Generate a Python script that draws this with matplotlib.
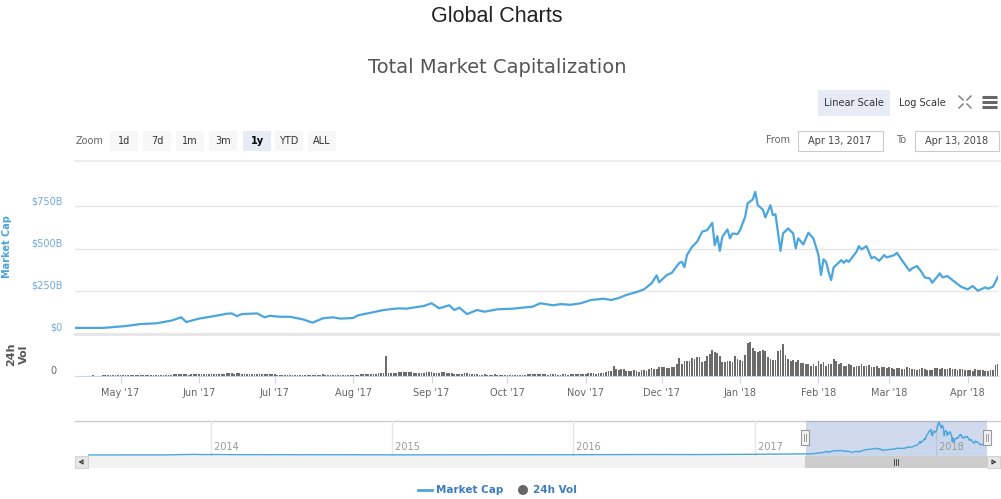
import numpy as np
import pandas as pd
import matplotlib
matplotlib.use("Agg")
import matplotlib.pyplot as plt
import matplotlib.dates as mdates
from matplotlib.patches import Rectangle, Circle

W, H = 1001, 499

# market cap in billions USD
cap_dates = [
    "2017-04-13", "2017-04-24", "2017-05-03", "2017-05-09", "2017-05-15", "2017-05-21",
    "2017-05-25", "2017-05-27", "2017-06-01", "2017-06-07", "2017-06-12", "2017-06-14",
    "2017-06-16", "2017-06-18", "2017-06-24", "2017-06-27", "2017-06-29", "2017-07-03",
    "2017-07-07", "2017-07-12", "2017-07-16", "2017-07-20", "2017-07-24", "2017-07-27",
    "2017-08-01", "2017-08-03", "2017-08-08", "2017-08-13", "2017-08-19", "2017-08-22",
    "2017-08-29", "2017-09-01", "2017-09-04", "2017-09-08", "2017-09-10", "2017-09-12",
    "2017-09-15", "2017-09-19", "2017-09-22", "2017-09-27", "2017-10-03", "2017-10-11",
    "2017-10-14", "2017-10-19", "2017-10-22", "2017-10-26", "2017-10-30", "2017-11-03",
    "2017-11-08", "2017-11-11", "2017-11-14", "2017-11-17", "2017-11-21", "2017-11-24",
    "2017-11-27", "2017-11-29", "2017-11-30", "2017-12-03", "2017-12-05", "2017-12-08",
    "2017-12-09", "2017-12-10", "2017-12-11", "2017-12-13", "2017-12-15", "2017-12-17",
    "2017-12-19", "2017-12-21", "2017-12-22", "2017-12-23", "2017-12-24", "2017-12-25",
    "2017-12-27", "2017-12-28", "2017-12-29", "2017-12-31", "2018-01-01", "2018-01-03",
    "2018-01-04", "2018-01-06", "2018-01-07", "2018-01-08", "2018-01-10", "2018-01-11",
    "2018-01-13", "2018-01-14", "2018-01-15", "2018-01-17", "2018-01-18", "2018-01-20",
    "2018-01-22", "2018-01-23", "2018-01-24", "2018-01-26", "2018-01-28", "2018-01-30",
    "2018-01-31", "2018-02-01", "2018-02-02", "2018-02-03", "2018-02-04", "2018-02-05",
    "2018-02-06", "2018-02-07", "2018-02-08", "2018-02-10", "2018-02-11", "2018-02-12",
    "2018-02-13", "2018-02-15", "2018-02-16", "2018-02-17", "2018-02-18", "2018-02-20",
    "2018-02-22", "2018-02-23", "2018-02-25", "2018-02-27", "2018-02-28", "2018-03-03",
    "2018-03-04", "2018-03-06", "2018-03-09", "2018-03-10", "2018-03-12", "2018-03-14",
    "2018-03-15", "2018-03-17", "2018-03-18", "2018-03-21", "2018-03-22", "2018-03-24",
    "2018-03-26", "2018-03-29", "2018-03-30", "2018-04-01", "2018-04-03", "2018-04-05",
    "2018-04-08", "2018-04-09", "2018-04-11", "2018-04-13",
]
cap_values = [
    30, 30, 41, 53, 57, 73,
    93, 65, 85, 100, 114, 116,
    100, 112, 116, 93, 102, 96,
    96, 81, 61, 87, 93, 85,
    89, 105, 120, 136, 146, 144,
    160, 176, 146, 164, 136, 150,
    112, 136, 126, 140, 144, 156,
    176, 164, 171, 167, 176, 195,
    203, 195, 207, 225, 242, 258,
    294, 341, 300, 343, 356, 415,
    421, 390, 461, 510, 540, 599,
    609, 652, 520, 573, 486, 569,
    613, 560, 589, 585, 609, 687,
    767, 790, 835, 756, 731, 684,
    756, 697, 703, 486, 589, 619,
    589, 500, 560, 524, 593, 560,
    510, 461, 343, 436, 421, 362,
    313, 388, 402, 431, 415, 431,
    421, 461, 480, 514, 495, 514,
    441, 451, 427, 461, 447, 461,
    475, 431, 368, 382, 396, 356,
    329, 323, 297, 353, 329, 337,
    313, 278, 270, 258, 278, 250,
    270, 262, 274, 333,
]

# earlier history, only visible in the navigator
hist_dates = ["2013-04-28", "2013-07-01", "2013-10-01", "2013-11-30", "2013-12-18",
              "2014-01-05", "2014-03-01", "2014-06-01", "2014-09-01", "2015-01-14",
              "2015-06-01", "2015-11-05", "2016-01-01", "2016-06-17", "2016-09-01",
              "2017-01-01", "2017-03-10"]
hist_values = [1.6, 1.2, 1.8, 15, 8, 12, 8, 8, 6.5, 3.5, 3.8, 6.5, 7, 12, 10, 18, 24]

# daily 24h volume in billions USD, one list per month
vol_apr17 = [0.6, 0.7, 0.6, 0.7, 0.8, 0.9, 0.8, 1.0, 0.9, 0.8, 0.9, 1.0, 1.1, 1.2, 1.3, 1.1, 1.0, 1.2]
vol_may17 = [1.3, 1.2, 1.4, 1.6, 1.5, 1.3, 1.4, 1.6, 2.0, 1.7, 1.8, 1.5, 1.4, 1.6, 1.7, 1.9, 2.2,
             2.1, 2.0, 2.3, 2.2, 3.0, 3.2, 3.5, 4.0, 3.6, 3.2, 2.8, 3.0, 3.4, 3.1]
vol_jun17 = [3.0, 3.4, 3.2, 3.6, 3.8, 3.5, 4.0, 3.8, 3.6, 4.2, 4.5, 5.2, 4.8, 5.0, 4.6, 4.9, 5.3,
             4.7, 4.4, 4.0, 3.8, 3.9, 4.1, 3.6, 3.5, 3.7, 3.9, 3.6, 3.4, 3.2]
vol_jul17 = [3.0, 2.6, 2.4, 2.8, 2.5, 2.2, 2.0, 1.8, 1.5, 2.4, 2.6, 2.0, 1.6, 1.4, 1.8, 2.2, 2.8,
             2.4, 2.6, 3.0, 2.4, 2.0, 1.6, 1.8, 2.2, 1.4, 1.2, 1.6, 1.5, 1.4, 1.8]
vol_aug17 = [2.2, 2.6, 2.8, 3.0, 3.2, 3.0, 3.4, 3.6, 4.0, 4.4, 4.8, 5.2, 5.6, 38.0, 6.4, 6.0, 5.8,
             6.6, 7.8, 8.2, 7.6, 7.0, 8.0, 7.4, 6.6, 6.2, 5.8, 5.4, 6.0, 6.8, 7.2]
vol_sep17 = [7.0, 6.4, 6.0, 6.6, 7.2, 6.8, 5.8, 5.4, 5.0, 4.6, 4.2, 4.4, 3.8, 4.8, 5.6, 4.2, 3.6,
             3.8, 3.2, 2.8, 2.6, 3.0, 2.4, 2.2, 2.8, 3.0, 2.6, 2.4, 2.0, 1.8]
vol_oct17 = [1.8, 2.0, 2.2, 1.6, 2.0, 2.4, 2.6, 2.2, 3.0, 3.4, 3.8, 3.6, 3.2, 3.0, 3.4, 3.0, 2.8,
             3.2, 3.4, 3.0, 2.6, 2.8, 3.0, 3.2, 2.8, 3.4, 3.6, 3.2, 3.6, 3.8, 4.0]
vol_nov17 = [4.6, 5.4, 6.0, 5.2, 4.4, 4.8, 5.6, 6.4, 7.2, 8.8, 9.6, 20.0, 14.0, 10.6, 12.4, 13.0,
             9.6, 8.8, 10.2, 11.4, 9.0, 8.4, 10.6, 11.8, 9.4, 13.2, 15.0, 14.2, 13.4, 16.2]
vol_dec17 = [17.0, 16.4, 14.8, 15.6, 18.0, 16.8, 23.0, 35.0, 23.0, 28.0, 29.0, 29.0, 34.0, 33.0,
             37.0, 36.0, 26.0, 29.0, 38.0, 42.0, 49.0, 46.0, 44.0, 38.0, 27.0, 26.0, 28.0, 29.0,
             27.0, 38.0, 32.0]
vol_jan18 = [30, 29, 40, 62, 64, 54, 48, 45, 48, 50, 48, 36, 32, 30, 30, 48, 50, 61, 40, 32,
             29, 30, 26, 30, 24, 24, 23, 22, 20, 23, 20]
vol_feb18 = [28, 23, 27, 19, 23, 23, 32, 28, 23, 25, 20, 19, 22, 21, 18, 20, 19, 22, 20, 19,
             21, 18, 17, 19, 16, 17, 18, 16]
vol_mar18 = [17, 15, 14, 16, 15, 13, 14, 17, 16, 14, 13, 12, 14, 15, 13, 12, 11, 12, 15, 16,
             14, 15, 13, 14, 15, 13, 14, 12, 13, 14, 12]
vol_apr18 = [11, 12, 10, 13, 12, 11, 12, 10, 9, 11, 12, 21, 22]

vol_values = (vol_apr17 + vol_may17 + vol_jun17 + vol_jul17 + vol_aug17 + vol_sep17 + vol_oct17
              + vol_nov17 + vol_dec17 + vol_jan18 + vol_feb18 + vol_mar18 + vol_apr18)
vol_dates = pd.date_range("2017-04-13", "2018-04-13", freq="D")

cap_x = pd.to_datetime(cap_dates)
nav_x = pd.to_datetime(hist_dates + cap_dates)
nav_y = hist_values + cap_values

range_buttons = ["1d", "7d", "1m", "3m", "1y", "YTD", "ALL"]
y_ticks = [0, 250, 500, 750]
y_labels = ["$0", "$250B", "$500B", "$750B"]

LINE = "#4ba6dd"
start, end = pd.Timestamp("2017-04-13"), pd.Timestamp("2018-04-13")

plt.rcParams["font.family"] = "DejaVu Sans"
fig = plt.figure(figsize=(W / 100, H / 100), dpi=100)


def box(l, t, r, b):
    return [l / W, 1 - b / H, (r - l) / W, (b - t) / H]


# overlay in pixel coordinates for the html-ish controls
ui = fig.add_axes([0, 0, 1, 1], zorder=0)
ui.set_xlim(0, W)
ui.set_ylim(H, 0)
ui.axis("off")

ui.text(497, 16, "Global Charts", ha="center", va="center", fontsize=15.5,
        family="Liberation Sans", color="#222222")
ui.text(497, 67, "Total Market Capitalization", ha="center", va="center", fontsize=14,
        color="#555555")

ui.add_patch(Rectangle((818, 90), 72, 26, fc="#e6ebf5", ec="none"))
ui.text(854, 103, "Linear Scale", ha="center", va="center", fontsize=7, color="#333333")
ui.text(922, 103, "Log Scale", ha="center", va="center", fontsize=7, color="#333333")
for sx, sy in [(-1, -1), (1, -1), (-1, 1), (1, 1)]:
    cx, cy = 965, 102
    ui.plot([cx + sx * 2, cx + sx * 6], [cy + sy * 2, cy + sy * 6], color="#777777", lw=1)
for yy in [97, 102, 107]:
    ui.plot([982, 997], [yy, yy], color="#666666", lw=2.2, solid_capstyle="butt")

ui.text(90, 141, "Zoom", ha="center", va="center", fontsize=7, color="#666666")
btn_centers = [124, 157, 190, 223, 257, 289, 322]
for lab, cx in zip(range_buttons, btn_centers):
    sel = lab == "1y"
    ui.add_patch(Rectangle((cx - 14, 131), 28, 20, fc="#e6ebf5" if sel else "#f7f7f7", ec="none"))
    ui.text(cx, 141, lab, ha="center", va="center", fontsize=7, color="#000000" if sel else "#333333",
            fontweight="bold" if sel else "normal")

ui.text(778, 140, "From", ha="center", va="center", fontsize=7, color="#666666")
ui.add_patch(Rectangle((798, 131), 85, 20, fc="white", ec="#cccccc", lw=0.8))
ui.text(840, 141, "Apr 13, 2017", ha="center", va="center", fontsize=7, color="#444444")
ui.text(901, 140, "To", ha="center", va="center", fontsize=7, color="#666666")
ui.add_patch(Rectangle((915, 131), 84, 20, fc="white", ec="#cccccc", lw=0.8))
ui.text(957, 141, "Apr 13, 2018", ha="center", va="center", fontsize=7, color="#444444")
ui.plot([75, 1000], [161, 161], color="#e9e9e9", lw=1.2)

ui.text(7, 247, "Market Cap", rotation=90, ha="center", va="center", fontsize=7,
        fontweight="bold", color="#4aa3df")
ui.text(18, 354, "24h\nVol", rotation=90, ha="center", va="center", fontsize=8,
        fontweight="bold", color="#555555", linespacing=1.35)

# main market cap panel
ax = fig.add_axes(box(75, 164, 998, 333), zorder=2)
ax.patch.set_alpha(0)
ax.plot(cap_x, cap_values, color=LINE, lw=1.6, solid_joinstyle="round")
ax.set_xlim(start, end)
ax.set_ylim(0, 1000)
ax.set_yticks(y_ticks)
ax.set_yticklabels(y_labels)
ax.tick_params(axis="y", length=0, pad=9, labelsize=7, labelcolor="#6fa9dc")
plt.setp(ax.get_yticklabels(), va="bottom")
ax.set_xticks([])
ax.grid(axis="y", color="#e6e6e6", lw=1)
for s in ax.spines.values():
    s.set_visible(False)

# volume panel
av = fig.add_axes(box(75, 334, 998, 376), zorder=2)
av.patch.set_alpha(0)
av.bar(vol_dates, vol_values, width=0.7, color="#6b6b6b", edgecolor="none")
av.set_xlim(start, end)
av.set_ylim(0, 80)
av.set_yticks([0])
av.set_yticklabels(["0"])
av.tick_params(axis="y", length=0, pad=13, labelsize=7, labelcolor="#666666")
plt.setp(av.get_yticklabels(), va="bottom")
av.xaxis.set_major_locator(mdates.MonthLocator())
av.xaxis.set_major_formatter(mdates.DateFormatter("%b '%y"))
av.tick_params(axis="x", length=5, color="#ccd6eb", labelsize=7, labelcolor="#666666", pad=4)
for s in ["left", "right"]:
    av.spines[s].set_visible(False)
av.spines["top"].set_color("#e6e6e6")
av.spines["top"].set_linewidth(2)
av.spines["bottom"].set_color("#ccd6eb")

# navigator
ui.add_patch(Rectangle((75, 421), 925, 35, fc="white", ec="none"))
ui.plot([75, 1000], [421, 421], color="#cccccc", lw=1)
an = fig.add_axes(box(88, 421, 987, 456), zorder=2)
an.patch.set_alpha(0)
nav_start = pd.Timestamp("2013-04-28")
an.plot(nav_x, nav_y, color=LINE, lw=1)
an.fill_between(nav_x, nav_y, color=LINE, alpha=0.05, lw=0)
an.set_xlim(nav_start, end)
an.set_ylim(-25, 860)
for yr in range(2014, 2019):
    d = pd.Timestamp(f"{yr}-01-01")
    an.axvline(d, color="#e6e6e6", lw=1, zorder=0)
    an.text(d, 0.25, f" {yr}", transform=an.get_xaxis_transform(), ha="left", va="center",
            fontsize=7, color="#999999")
an.axvspan(start, end, color=(102 / 255, 133 / 255, 194 / 255), alpha=0.3, lw=0)
an.set_xticks([])
an.set_yticks([])
for s in an.spines.values():
    s.set_visible(False)

# navigator handles and scrollbar (pixel overlay on top)
top = fig.add_axes([0, 0, 1, 1], zorder=3)
top.set_xlim(0, W)
top.set_ylim(H, 0)
top.axis("off")
for hx in [805, 987]:
    top.add_patch(Rectangle((hx - 4, 430), 8, 15, fc="#f2f2f2", ec="#999999", lw=0.8))
    top.plot([hx - 1.3, hx - 1.3], [434, 441], color="#999999", lw=0.7)
    top.plot([hx + 1.3, hx + 1.3], [434, 441], color="#999999", lw=0.7)
top.add_patch(Rectangle((75, 456), 925, 12, fc="#f2f2f2", ec="none"))
top.add_patch(Rectangle((805, 456), 182, 12, fc="#cccccc", ec="none"))
for dx in [-2, 0, 2]:
    top.plot([896 + dx, 896 + dx], [459, 465], color="#333333", lw=0.6)
top.add_patch(Rectangle((75, 456), 13, 12, fc="#e6e6e6", ec="#cccccc", lw=0.6))
top.add_patch(Rectangle((987, 456), 13, 12, fc="#e6e6e6", ec="#cccccc", lw=0.6))
top.plot([80, 83, 83, 80], [462, 460, 464, 462], color="#333333", lw=0.8)
top.plot([995, 992, 992, 995], [462, 460, 464, 462], color="#333333", lw=0.8)

# legend
top.plot([418, 432], [490, 490], color=LINE, lw=2)
top.text(436, 490, "Market Cap", ha="left", va="center", fontsize=7.5, fontweight="bold",
         color="#3b7cc4")
top.add_patch(Circle((523, 490), 5, fc="#666666", ec="none"))
top.text(533, 490, "24h Vol", ha="left", va="center", fontsize=7.5, fontweight="bold",
         color="#3b7cc4")

fig.savefig("out.png", dpi=100)
